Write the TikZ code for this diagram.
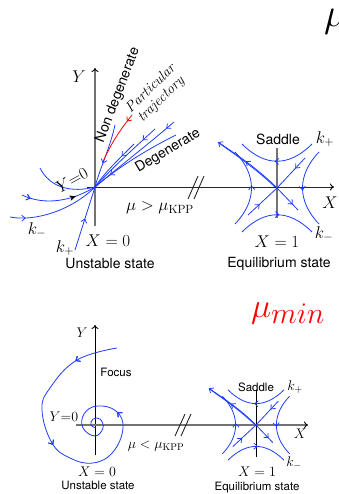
\RequirePackage{fix-cm}
\documentclass[tikz,border=0pt]{standalone}
\usepackage{fontspec}
\newfontfamily\hv{TeX Gyre Heros}
\usetikzlibrary{arrows.meta,decorations.markings}
\definecolor{trajblue}{RGB}{30,60,255}
\definecolor{axgray}{gray}{0.45}
\tikzset{
  trajline/.style={draw=trajblue, line width=0.8pt},
  midarrow/.style={postaction={decorate}, decoration={markings,
      mark=at position #1 with {\arrow{Straight Barb[length=3.5pt,width=6pt,line width=0.8pt]}}}},
  blackarrow/.style={postaction={decorate}, decoration={markings,
      mark=at position #1 with {\arrow[black]{Stealth[length=6pt,width=5pt]}}}},
  axtip/.style={-{To[length=4pt,width=7pt,line width=0.9pt,color=black]}},
  sanstop/.style={font=\hv\fontsize{14}{16}\selectfont},
  mathtop/.style={font=\fontsize{17}{20}\selectfont},
  sansbot/.style={font=\hv\fontsize{11.5}{13}\selectfont},
  mathbot/.style={font=\fontsize{14}{16}\selectfont},
  saddlepic/.pic={
    \draw[trajline, midarrow=0.53] (35,-44) .. controls (12,-21) and (-12,-21) .. (-35,-44);
    \draw[trajline, midarrow=0.53] (-35,44) .. controls (-12,21) and (12,21) .. (35,44);
    \draw[trajline, midarrow=0.53] (-42,36) .. controls (-20,13) and (-20,-13) .. (-42,-36);
    \draw[trajline, midarrow=0.53] (42,-36) .. controls (20,-13) and (20,13) .. (42,36);
    \draw[trajline, midarrow=0.55, -{Straight Barb[length=3.5pt,width=6pt]}]
      (0,0) .. controls (-20,-20) and (-40,-33) .. (-59,-46);
    \draw[trajline] (-2,-1) .. controls (-22,-20) and (-40,-32) .. (-58,-45);
    \draw[trajline, midarrow=0.75] (0,0) -- (21,22);
    \draw[trajline, midarrow=0.4] (-29,27) -- (0,0);
    \draw[trajline, midarrow=0.35] (28,-30) -- (0,0);
  }
}
\begin{document}
\begin{tikzpicture}[x=1pt,y=-1pt]
\useasboundingbox (0,0) rectangle (338,494);
% ================= TOP =================
\coordinate (O1) at (95,187);
\coordinate (S1) at (277,188);
\draw[axgray, line width=1.8pt, axtip] (95,226) -- (95,68);
\draw[black!85, line width=1pt, axtip] (87,187) -- (334,187);
\draw[black!85, line width=0.9pt] (188,199) -- (198,176) (194,199) -- (204,176);
\draw[axgray, line width=1.5pt] (277,148) -- (277,218);
\pic at (S1) {saddlepic};
% trajectories near unstable state
\draw[trajline] (40,168) .. controls (50,188) and (72,193) .. (O1);
\draw[trajline, midarrow=0.12, blackarrow=0.72] (22,195) .. controls (45,206) and (72,201) .. (O1);
\draw[trajline, midarrow=0.17] (10,217) .. controls (35,222) and (72,210) .. (O1);
\draw[trajline, midarrow=0.5] (75,250) -- (O1);
\draw[trajline, midarrow=0.62] (115,125) .. controls (110,148) and (100,168) .. (O1);
\draw[red, line width=0.8pt, midarrow=0.15] (132,115) .. controls (120,130) and (110,145) .. (103,162);
\draw[trajline, midarrow=0.3] (134,144) .. controls (120,158) and (105,172) .. (O1);
\draw[trajline, midarrow=0.2] (155,129) .. controls (132,150) and (110,170) .. (O1);
\draw[trajline, midarrow=0.1] (174,122) .. controls (145,147) and (115,170) .. (O1);
\draw[trajline, midarrow=0.8] (176,135) .. controls (142,152) and (115,170) .. (O1);
% labels
\node[mathtop] (y1) at (79,77) {$Y$};
\node[sanstop, rotate=69] (nd) at (118,95) {Non degenerate};
\node[font=\itshape\fontsize{14.5}{15}\selectfont, rotate=44, align=center] (pt) at (156,94) {Particular\\trajectory};
\node[sanstop, rotate=31] (dg) at (168,151) {Degenerate};
\node[mathtop, rotate=29] (y01) at (72,180) {$Y{=}0$};
\node[mathtop] (km1) at (37,230) {$k_-$};
\node[mathtop] (kp1) at (65,248) {$k_+$};
\node[mathtop] (x01) at (108,241) {$X=0$};
\node[sanstop] (us1) at (110,264) {Unstable state};
\node[mathtop] (mu1) at (160,208) {$\mu>\mu_{\mathrm{KPP}}$};
\node[sanstop] (sd1) at (278,139) {Saddle};
\node[mathtop] (kp2) at (325,139) {$k_+$};
\node[mathtop] (km2) at (324,234) {$k_-$};
\node[mathtop] (xl1) at (330,203) {$X$};
\node[mathtop] (x11) at (277,242) {$X=1$};
\node[sanstop] (eq1) at (279,264) {Equilibrium state};
\node[font=\fontsize{40}{44}\selectfont, anchor=base west, inner sep=0pt] (mubig) at (324,27) {$\mu$};
% ================= BOTTOM =================
\coordinate (O2) at (95,425);
\coordinate (S2) at (256,425);
\draw[black, line width=1pt, axtip] (95,455) -- (95,325);
\draw[axgray, line width=1.8pt, axtip] (76,425) -- (308,425);
\draw[black!85, line width=0.9pt] (175,436) -- (185,414) (181,436) -- (191,414);
\draw[black, line width=1pt] (256,390) -- (256,457);
\pic[scale=0.8] at (S2) {saddlepic};
\draw[trajline, midarrow=0.12, midarrow=0.39, midarrow=0.7] plot[smooth, tension=0.7] coordinates {(117,348) (77,360) (50,388) (42,410) (52,443) (70,458) (93,463) (113,452) (123,428) (116,411) (97,406) (84,414) (83,428) (95,436) (103,428) (100,419) (93,419) (91,425) (96,428)};
\node[mathbot] (y2) at (82,333) {$Y$};
\node[sansbot] (fc) at (116,372) {Focus};
\node[mathbot] (y02) at (64,417) {$Y{=}0$};
\node[mathbot] (mu2) at (156,446) {$\mu<\mu_{\mathrm{KPP}}$};
\node[mathbot] (x02) at (97,472) {$X=0$};
\node[sansbot] (us2) at (98,485) {Unstable state};
\node[sansbot] (sd2) at (256,387) {Saddle};
\node[mathbot] (kp3) at (295,387) {$k_+$};
\node[mathbot] (km3) at (294,463) {$k_-$};
\node[mathbot] (xl2) at (300,434) {$X$};
\node[mathbot] (x12) at (257,472) {$X=1$};
\node[sansbot] (eq2) at (257,488) {Equilibrium state};
\node[text=red, font=\fontsize{34}{40}\selectfont, anchor=base west, inner sep=0pt] (mumin) at (251,317) {$\mu$\raisebox{-6pt}{\fontsize{30}{34}\selectfont$min$}};
\end{tikzpicture}
\end{document}
